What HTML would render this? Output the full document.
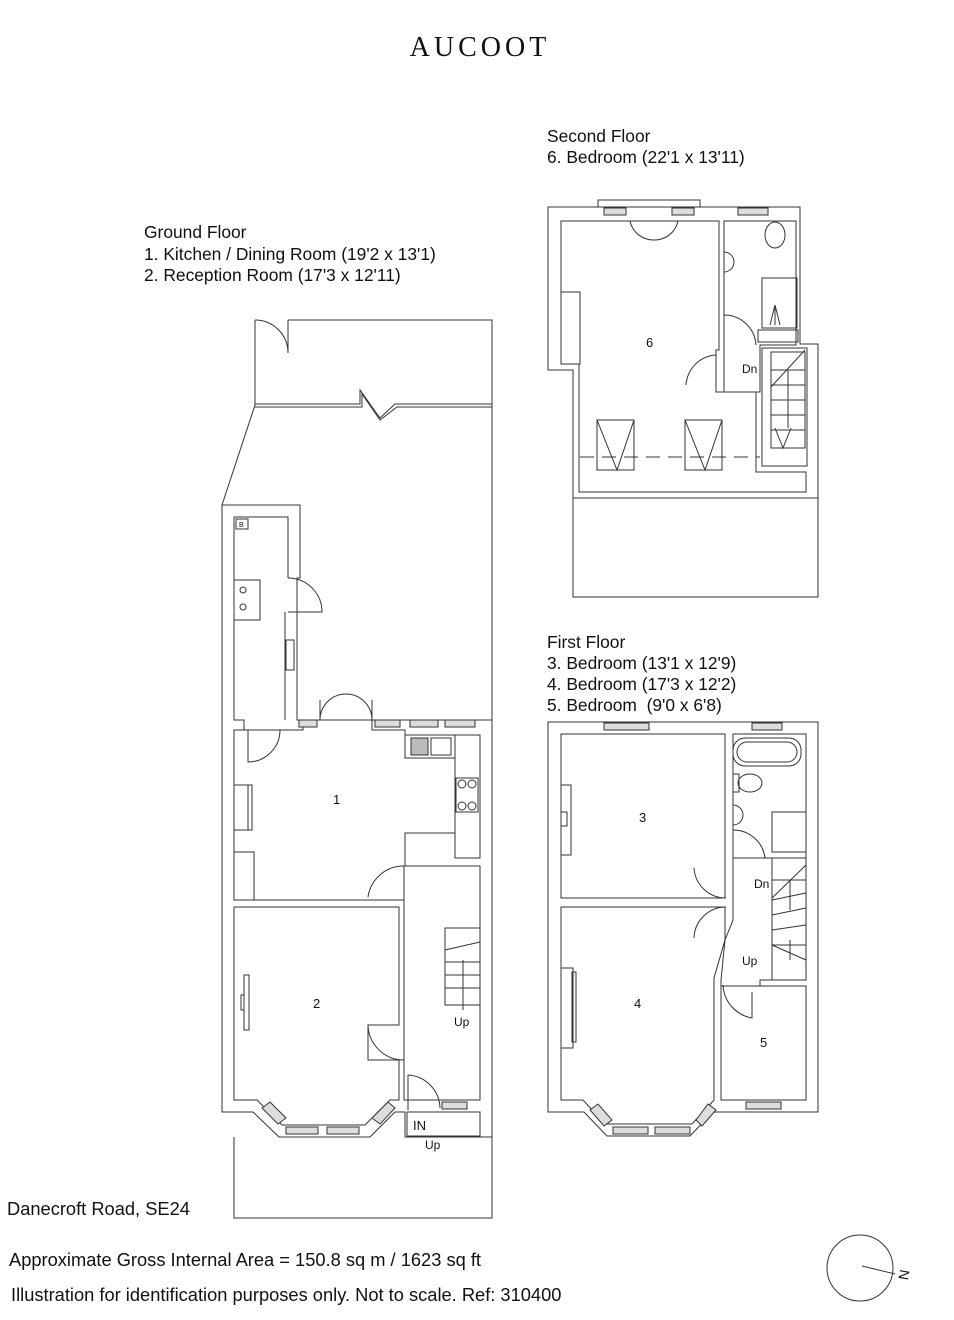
<!DOCTYPE html>
<html><head><meta charset="utf-8"><style>
html,body{margin:0;padding:0;background:#fff;width:954px;height:1320px;overflow:hidden}
svg{display:block}
text{font-family:"Liberation Sans",sans-serif;fill:#111}
</style></head><body>
<svg width="954" height="1320" viewBox="0 0 954 1320" xmlns="http://www.w3.org/2000/svg">
<g fill="none" stroke="#333" stroke-width="1">
<!-- ============ GROUND FLOOR ============ -->
<polyline points="288,320 492,320 492,1218 234,1218 234,1137"/>
<polyline points="255,320 255,405"/>
<path d="M255,320 A33,33 0 0 1 288,353"/>
<line x1="288" y1="320" x2="288" y2="353"/>
<polyline points="255,404 360,404 360,390 380,418 395,404 492,404"/>
<polyline points="255,407 362,407 362,394 380,420 397,407 492,407"/>
<line x1="255" y1="405" x2="222" y2="505"/>
<polygon fill="#fff" points="222,505 300,505 300,578 297,578 297,612 297,720 492,720 492,1137 405,1137 405,1112 395,1112 370,1137 279,1137 253,1112 222,1112"/>
<line x1="480" y1="1112" x2="480" y2="1137"/>
<polyline points="234,517 288,517 288,578"/>
<polyline points="234,517 234,720 244,720 244,735"/>
<polyline points="285,612 285,720"/>
<path d="M288,578 A34,34 0 0 1 322,612 L288,612"/>
<rect x="236" y="519" width="12" height="10"/>
<rect x="234" y="580" width="26" height="40"/>
<circle cx="243" cy="590" r="3"/><circle cx="243" cy="607" r="3"/>
<rect x="286" y="640" width="8" height="30"/>
<polygon fill="#fff" points="234,730 303,730 303,720 372,720 372,730 405,730 405,758 455,758 455,833 405,833 405,900 234,900"/>
<path d="M320,720 A26,26 0 0 1 346,694 M372,720 A26,26 0 0 0 346,694"/>
<line x1="320" y1="720" x2="320" y2="700"/><line x1="372" y1="720" x2="372" y2="700"/>
<path d="M248,730 L248,762 A32,32 0 0 0 280,730"/>
<rect x="455" y="735" width="25" height="123"/>
<rect x="405" y="735" width="50" height="23"/>
<rect x="411" y="738" width="17" height="17" fill="#bbb"/><rect x="431" y="738" width="20" height="17"/>
<rect x="456" y="778" width="22" height="34"/>
<circle cx="462" cy="784" r="4"/><circle cx="472" cy="784" r="4"/><circle cx="462" cy="806" r="4"/><circle cx="472" cy="806" r="4"/>
<rect x="234" y="785" width="14" height="45"/><rect x="248" y="785" width="4" height="45"/>
<rect x="234" y="852" width="20" height="48"/>
<polygon fill="#fff" points="404,866 480,866 480,1100 404,1100"/>
<path d="M368,897 A36,36 0 0 1 404,866"/>
<path d="M368,1025 A36,36 0 0 0 404,1060"/>
<rect x="445" y="928" width="35" height="77"/>
<line x1="445" y1="950" x2="480" y2="942"/>
<line x1="445" y1="962" x2="480" y2="962"/><line x1="445" y1="975" x2="480" y2="975"/><line x1="445" y1="988" x2="480" y2="988"/>
<line x1="463" y1="960" x2="463" y2="1010"/>
<path d="M408,1075 L408,1110 M408,1075 A34,34 0 0 1 440,1108"/>
<polygon fill="#fff" points="234,907 399,907 399,1025 368,1025 368,1060 399,1060 399,1100 390,1100 365,1125 282,1125 257,1100 234,1100"/>
<rect x="244" y="975" width="5" height="55"/><rect x="241" y="995" width="3" height="15"/>
<rect x="407" y="1112" width="73" height="24"/>
<g fill="#ddd"><rect x="299" y="720" width="18" height="7"/><rect x="375" y="720" width="25" height="7"/><rect x="410" y="720" width="28" height="7"/><rect x="445" y="720" width="30" height="7"/>
<rect x="286" y="1127" width="32" height="7"/><rect x="327" y="1127" width="32" height="7"/><rect x="442" y="1102" width="25" height="7"/>
<polygon points="262,1108 270,1102 286,1118 278,1124"/><polygon points="372,1118 388,1102 395,1108 380,1124"/></g>
<!-- ============ SECOND FLOOR ============ -->
<rect x="598" y="200" width="102" height="8" fill="#fff"/>
<polygon fill="#fff" points="548,207 800,207 800,344 818,344 818,498 573,498 573,370 548,370"/>
<polygon fill="#fff" points="561,221 719,221 719,350 716,350 716,392 756,392 756,472 806,472 806,492 579,492 579,364 561,364"/>
<rect x="561" y="292" width="19" height="72"/>
<path d="M630,221 A24,24 0 0 0 654,240 A24,24 0 0 0 678,221"/>
<polygon fill="#fff" points="724,221 796,221 796,345 760,345 760,392 724,392 724,360"/>
<rect x="762" y="348" width="45" height="118" fill="#fff"/>
<rect x="771" y="352" width="34" height="96"/>
<line x1="771" y1="370" x2="805" y2="370"/><line x1="771" y1="385" x2="805" y2="385"/><line x1="771" y1="400" x2="805" y2="400"/><line x1="771" y1="415" x2="805" y2="415"/><line x1="771" y1="430" x2="805" y2="430"/>
<line x1="771" y1="387" x2="805" y2="350"/><line x1="788" y1="370" x2="788" y2="428"/><line x1="771" y1="370" x2="788" y2="370"/>
<polyline points="775,428 783,448 791,428"/>
<path d="M724,315 A32,32 0 0 1 756,345"/>
<path d="M686,385 A32,32 0 0 1 716,355"/>
<rect x="762" y="278" width="35" height="50"/>
<rect x="758" y="330" width="40" height="12"/>
<ellipse cx="775" cy="235" rx="10" ry="13"/>
<path d="M724,252 A10,10 0 0 1 734,262 A10,10 0 0 1 724,272"/>
<path d="M770,325 l5,-20 M775,325 l0,-20 M780,325 l-5,-20" />
<rect x="597" y="420" width="37" height="50"/><polyline points="597,420 617,470 634,420"/>
<rect x="685" y="420" width="37" height="50"/><polyline points="685,420 705,470 722,420"/>
<line x1="580" y1="457" x2="760" y2="457" stroke-dasharray="14,8"/>
<rect x="573" y="498" width="245" height="99"/>
<g fill="#ddd"><rect x="604" y="208" width="22" height="7"/><rect x="672" y="208" width="22" height="7"/><rect x="738" y="208" width="30" height="7"/></g>
<!-- ============ FIRST FLOOR ============ -->
<polygon fill="#fff" points="548,722 818,722 818,1112 713,1112 690,1136 607,1136 584,1112 548,1112"/>
<polygon fill="#fff" points="561,734 725,734 725,898 561,898"/>
<polygon fill="#fff" points="733,734 806,734 806,858 733,858"/>
<polygon fill="#fff" points="733,858 806,858 806,980 760,980 760,992 721,992 721,980 725,940 733,920"/>
<polygon fill="#fff" points="561,907 725,907 725,940 714,978 714,1100 692,1124 605,1124 583,1100 561,1100"/>
<polygon fill="#fff" points="721,986 806,986 806,1100 721,1100"/>
<rect x="561" y="785" width="10" height="70"/><rect x="561" y="812" width="6" height="14"/>
<rect x="561" y="968" width="12" height="80"/><rect x="572" y="972" width="4" height="70"/>
<path d="M694,868 A32,32 0 0 0 726,898"/>
<path d="M694,938 A32,32 0 0 1 726,907"/>
<path d="M733,830 A32,32 0 0 1 765,858"/>
<path d="M723,985 A35,35 0 0 0 752,1018 L752,992"/>
<rect x="772" y="858" width="34" height="122"/>
<line x1="772" y1="880" x2="806" y2="880"/><line x1="772" y1="900" x2="806" y2="893"/><line x1="772" y1="915" x2="806" y2="908"/><line x1="772" y1="930" x2="806" y2="925"/><line x1="772" y1="945" x2="806" y2="945"/>
<line x1="772" y1="898" x2="806" y2="865"/><line x1="772" y1="945" x2="806" y2="960"/>
<line x1="790" y1="880" x2="790" y2="910"/><line x1="790" y1="940" x2="790" y2="960"/>
<rect x="772" y="812" width="34" height="40"/>
<rect x="733" y="738" width="68" height="28" rx="12"/><rect x="737" y="742" width="60" height="20" rx="10"/>
<ellipse cx="750" cy="783" rx="12" ry="9"/><rect x="733" y="774" width="6" height="18"/>
<path d="M733,805 A10,10 0 0 1 733,825"/>
<g fill="#ddd"><rect x="604" y="723" width="45" height="7"/><rect x="752" y="723" width="30" height="7"/>
<rect x="613" y="1127" width="35" height="7"/><rect x="655" y="1127" width="35" height="7"/><rect x="746" y="1102" width="35" height="7"/>
<polygon points="590,1110 598,1104 612,1120 604,1126"/><polygon points="696,1120 708,1104 716,1110 702,1126"/></g>
<circle cx="860" cy="1268" r="33"/>
<line x1="862" y1="1266" x2="895" y2="1274"/>
</g>
<text x="480" y="56" text-anchor="middle" style="font-family:'Liberation Serif',serif;font-size:28px;letter-spacing:4px">AUCOOT</text>
<g font-size="17.4">
<text x="547" y="142">Second Floor</text>
<text x="547" y="163">6. Bedroom (22'1 x 13'11)</text>
<text x="144" y="238">Ground Floor</text>
<text x="144" y="260">1. Kitchen / Dining Room (19'2 x 13'1)</text>
<text x="144" y="281">2. Reception Room (17'3 x 12'11)</text>
<text x="547" y="648">First Floor</text>
<text x="547" y="669">3. Bedroom (13'1 x 12'9)</text>
<text x="547" y="690">4. Bedroom (17'3 x 12'2)</text>
<text x="547" y="711">5. Bedroom&#160; (9'0 x 6'8)</text>
</g>
<g font-size="18.3">
<text x="7" y="1215">Danecroft Road, SE24</text>
<text x="9" y="1266">Approximate Gross Internal Area = 150.8 sq m / 1623 sq ft</text>
<text x="11" y="1301">Illustration for identification purposes only. Not to scale. Ref: 310400</text>
</g>
<g font-size="13">
<text x="333" y="804">1</text><text x="313" y="1008">2</text>
<text x="639" y="822">3</text><text x="634" y="1008">4</text><text x="760" y="1047">5</text>
<text x="646" y="347">6</text>
<text x="742" y="373" font-size="12">Dn</text>
<text x="754" y="888" font-size="12">Dn</text>
<text x="742" y="965" font-size="12">Up</text>
<text x="454" y="1026" font-size="12">Up</text>
<text x="413" y="1130" font-size="13">IN</text>
<text x="425" y="1149" font-size="12">Up</text>
<text x="899" y="1282" font-size="14" transform="rotate(100 905 1276)">N</text>
</g>
<g font-size="7"><text x="239" y="527">B</text></g>
</svg>
</body></html>
